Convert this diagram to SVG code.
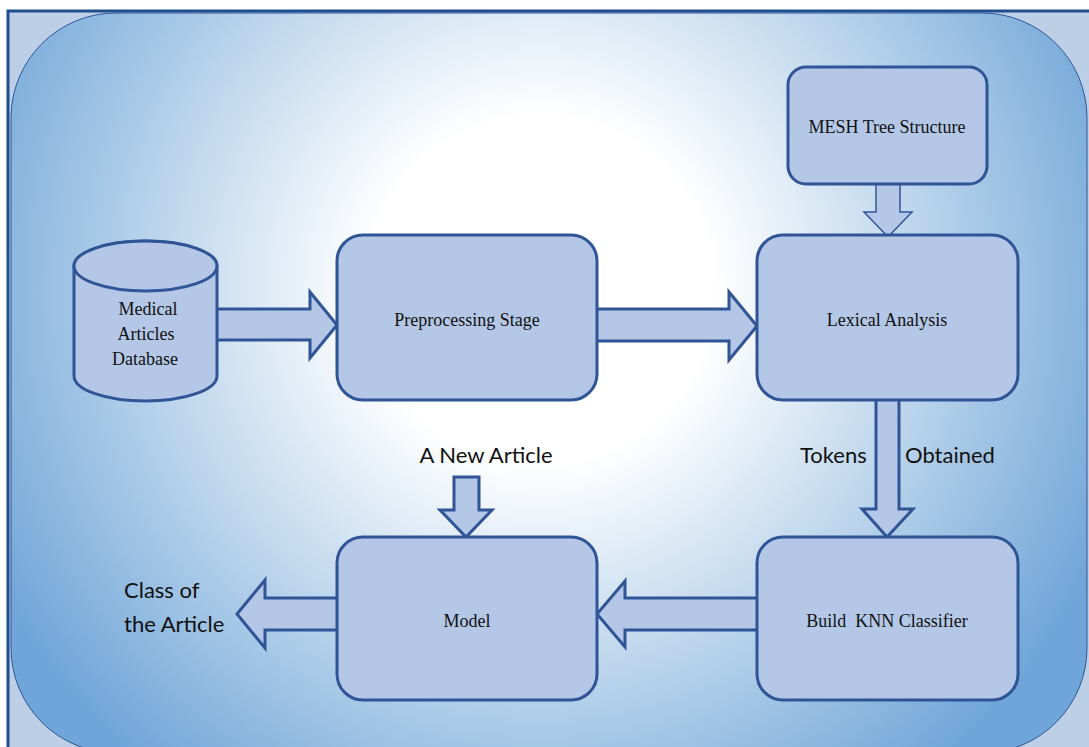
<svg xmlns="http://www.w3.org/2000/svg" width="1089" height="747" viewBox="0 0 1089 747">
  <defs>
    <radialGradient id="bgGrad" cx="540" cy="290" r="620" gradientUnits="userSpaceOnUse">
      <stop offset="0" stop-color="#ffffff"/>
      <stop offset="0.28" stop-color="#ffffff"/>
      <stop offset="0.62" stop-color="#bcd5ec"/>
      <stop offset="1" stop-color="#6fa5d8"/>
    </radialGradient>
  </defs>
  <style>
    .node { fill: #b4c7e7; stroke: #2f5597; stroke-width: 3; }
    .arrow { fill: #b4c7e7; stroke: #2f5597; stroke-width: 3; stroke-linejoin: miter; }
    .arrow-thin { fill: #b4c7e7; stroke: #2f5597; stroke-width: 1.5; }
    .lbl { font-family: "Liberation Serif", serif; font-size: 18px; fill: #111; text-anchor: middle; }
    .cap { font-family: Lato, "Open Sans", sans-serif; font-size: 22px; fill: #111; }
  </style>

  <!-- page frame -->
  <rect x="0" y="0" width="1089" height="747" fill="#ffffff"/>
  <rect x="8" y="11" width="1090" height="750" fill="#bccfe6" stroke="#1f4e8c" stroke-width="3"/>
  <!-- background panel -->
  <rect x="11" y="13" width="1076" height="740" rx="105" ry="105" fill="url(#bgGrad)" stroke="#2f5597" stroke-width="1"/>

  <!-- connectors -->
  <g id="connectors">
    <!-- database to preprocessing -->
    <path class="arrow" d="M217,309 L310,309 L310,292 L337,325 L310,358 L310,340 L217,340"/>
    <!-- preprocessing to lexical analysis -->
    <path class="arrow" d="M597,309 L729,309 L729,292 L757,326 L729,360 L729,341 L597,341"/>
    <!-- mesh tree to lexical analysis -->
    <path class="arrow-thin" d="M876,184 L876,212 L864,212 L888,237 L912,212 L900,212 L900,184"/>
    <!-- lexical analysis to knn classifier -->
    <path class="arrow" d="M876,400 L876,509 L862,509 L887,537 L913,509 L899,509 L899,400"/>
    <!-- knn classifier to model -->
    <path class="arrow" d="M757,598 L625,598 L625,581 L597,614 L625,647 L625,630 L757,630"/>
    <!-- new article into model -->
    <path class="arrow" d="M454,477 L479,477 L479,510 L492,510 L466,537 L440,510 L454,510 Z"/>
    <!-- model output -->
    <path class="arrow" d="M337,598 L265,598 L265,580 L237,614 L265,648 L265,630 L337,630"/>
  </g>

  <!-- connector captions -->
  <text class="cap" x="486" y="463" text-anchor="middle">A New Article</text>
  <text class="cap" x="800" y="463">Tokens</text>
  <text class="cap" x="905" y="463">Obtained</text>
  <text class="cap" x="124" y="598">Class of</text>
  <text class="cap" x="124" y="632">the Article</text>

  <g id="database">
    <path class="node" d="M74,266 L74,376 A71.5,25 0 0 0 217,376 L217,266 A71.5,25 0 0 0 74,266 Z"/>
    <ellipse class="node" cx="145.5" cy="266" rx="71.5" ry="25"/>
    <text class="lbl" x="148" y="315" font-size="18.5">Medical</text>
    <text class="lbl" x="146" y="340" font-size="18.5">Articles</text>
    <text class="lbl" x="145" y="365" font-size="18.5">Database</text>
  </g>

  <g id="preprocessing">
    <rect class="node" x="337" y="235" width="260" height="165" rx="26"/>
    <text class="lbl" x="467" y="326">Preprocessing Stage</text>
  </g>

  <g id="mesh">
    <rect class="node" x="788" y="67" width="199" height="117" rx="18"/>
    <text class="lbl" x="887" y="133" font-size="17">MESH Tree Structure</text>
  </g>

  <g id="lexical">
    <rect class="node" x="757" y="235" width="261" height="165" rx="26"/>
    <text class="lbl" x="887" y="326">Lexical Analysis</text>
  </g>

  <g id="knn">
    <rect class="node" x="757" y="537" width="261" height="163" rx="26"/>
    <text class="lbl" x="887" y="627" xml:space="preserve">Build  KNN Classifier</text>
  </g>

  <g id="model">
    <rect class="node" x="337" y="537" width="260" height="163" rx="26"/>
    <text class="lbl" x="467" y="627">Model</text>
  </g>
</svg>
